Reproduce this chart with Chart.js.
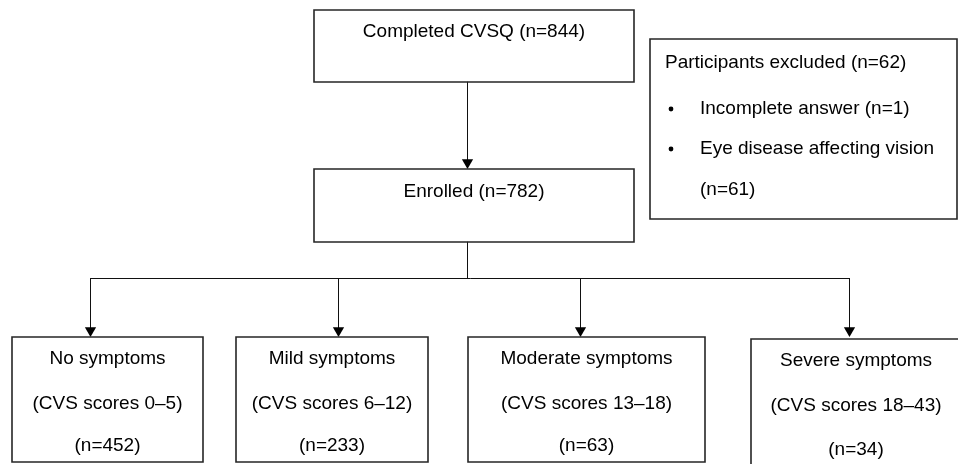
<!DOCTYPE html>
<html>
<head>
<meta charset="utf-8">
<script src="https://cdn.jsdelivr.net/npm/chart.js@4.4.1/dist/chart.umd.min.js"></script>
<style>
html,body{margin:0;padding:0;background:#fff;}
#wrap{width:958px;height:464px;}
</style>
</head>
<body>
<div id="wrap"><canvas id="c" width="958" height="464"></canvas></div>
<script>
// ---- Data (texts and counts) ----
const stepNames = ['Completed CVSQ', 'Enrolled'];
const stepCounts = [844, 782];
const excludedTitle = 'Participants excluded';
const excludedCount = 62;
const exclusionReasons = ['Incomplete answer', 'Eye disease affecting vision'];
const exclusionCounts = [1, 61];
const groupNames = ['No symptoms', 'Mild symptoms', 'Moderate symptoms', 'Severe symptoms'];
const scoreRanges = ['0–5', '6–12', '13–18', '18–43'];
const groupCounts = [452, 233, 63, 34];

// ---- Layout (scale units: x 0..958, y 0..464 top-down) ----
const stepBoxes = [[314, 634, 10, 82], [314, 634, 169, 242]];      // x0,x1,y0,y1
const excludedBox = [650, 957, 39, 219];
const groupBoxes = [[12, 203, 337, 462], [236, 428, 337, 462], [468, 705, 337, 462], [751, 962, 339, 470]];
const groupArrowX = [90.5, 338.5, 580.5, 849.5];
const trunkX = 467.5, branchY = 278.5, arrowTipY = 337, headR = 6.5;
const textShift = 2;
const stepTextY = [30, 190];
const groupTextY = [[357, 402, 444], [357, 402, 444], [357, 402, 444], [359, 404, 448]];
const excludedTextY = [61, 107, 147, 188];
const excludedTextX = 665, bulletX = 671, reasonX = 700;

const boxColor = '#262626', lineColor = '#111';

function rectPts(b) {
  const [x0, x1, y0, y1] = b;
  return [{x:x0,y:y0},{x:x1,y:y0},{x:x1,y:y1},{x:x0,y:y1},{x:x0,y:y0}];
}
const datasets = [];
function addBox(b) {
  datasets.push({data: rectPts(b), showLine: true, borderColor: boxColor, borderWidth: 1.6,
    pointRadius: 0, fill: false, tension: 0});
}
function addLine(pts) {
  datasets.push({data: pts, showLine: true, borderColor: lineColor, borderWidth: 1,
    pointRadius: 0, fill: false, tension: 0});
}
function addArrow(x, y0, tip) {
  datasets.push({data: [{x:x, y:y0}, {x:x, y:tip - headR}], showLine: true, borderColor: lineColor,
    borderWidth: 1, fill: false, tension: 0,
    pointRadius: [0, headR], pointStyle: 'triangle', rotation: 180,
    pointBackgroundColor: '#000', pointBorderColor: '#000', pointBorderWidth: 0});
}
stepBoxes.forEach(addBox);
addBox(excludedBox);
groupBoxes.forEach(addBox);
addArrow(trunkX, stepBoxes[0][3], stepBoxes[1][2]);
addLine([{x:trunkX, y:stepBoxes[1][3]}, {x:trunkX, y:branchY}]);
addLine([{x:groupArrowX[0], y:branchY}, {x:groupArrowX[3], y:branchY}]);
groupArrowX.forEach(x => addArrow(x, branchY, arrowTipY));
// bullets
datasets.push({data: exclusionReasons.map((r, i) => ({x: bulletX, y: excludedTextY[i + 1] + textShift})),
  showLine: false, pointRadius: 2.4, pointStyle: 'circle', pointBackgroundColor: '#000', pointBorderWidth: 0});

const textPlugin = {
  id: 'flowText',
  afterDatasetsDraw(chart) {
    const ctx = chart.ctx, sx = chart.scales.x, sy = chart.scales.y;
    ctx.save();
    ctx.fillStyle = '#000';
    ctx.font = '19px "Liberation Sans", Arial, sans-serif';
    ctx.textBaseline = 'middle';
    const put = (t, x, y, align) => { ctx.textAlign = align; ctx.fillText(t, sx.getPixelForValue(x), sy.getPixelForValue(y + textShift)); };
    stepNames.forEach((n, i) => {
      const b = stepBoxes[i];
      put(n + ' (n=' + stepCounts[i] + ')', (b[0] + b[1]) / 2, stepTextY[i], 'center');
    });
    put(excludedTitle + ' (n=' + excludedCount + ')', excludedTextX, excludedTextY[0], 'left');
    put(exclusionReasons[0] + ' (n=' + exclusionCounts[0] + ')', reasonX, excludedTextY[1], 'left');
    put(exclusionReasons[1], reasonX, excludedTextY[2], 'left');
    put('(n=' + exclusionCounts[1] + ')', reasonX, excludedTextY[3], 'left');
    groupNames.forEach((g, i) => {
      const b = groupBoxes[i];
      const cx = i === 3 ? 856 : (b[0] + b[1]) / 2;
      put(g, cx, groupTextY[i][0], 'center');
      put('(CVS scores ' + scoreRanges[i] + ')', cx, groupTextY[i][1], 'center');
      put('(n=' + groupCounts[i] + ')', cx, groupTextY[i][2], 'center');
    });
    ctx.restore();
  }
};

new Chart(document.getElementById('c'), {
  type: 'scatter',
  data: {datasets},
  options: {
    responsive: false,
    animation: false,
    layout: {padding: 0, autoPadding: false},
    plugins: {legend: {display: false}, tooltip: {enabled: false}},
    scales: {
      x: {type: 'linear', min: 0, max: 958, display: false},
      y: {type: 'linear', min: 0, max: 464, reverse: true, display: false}
    },
    elements: {line: {borderCapStyle: 'square'}}
  },
  plugins: [textPlugin]
});
</script>
</body>
</html>
